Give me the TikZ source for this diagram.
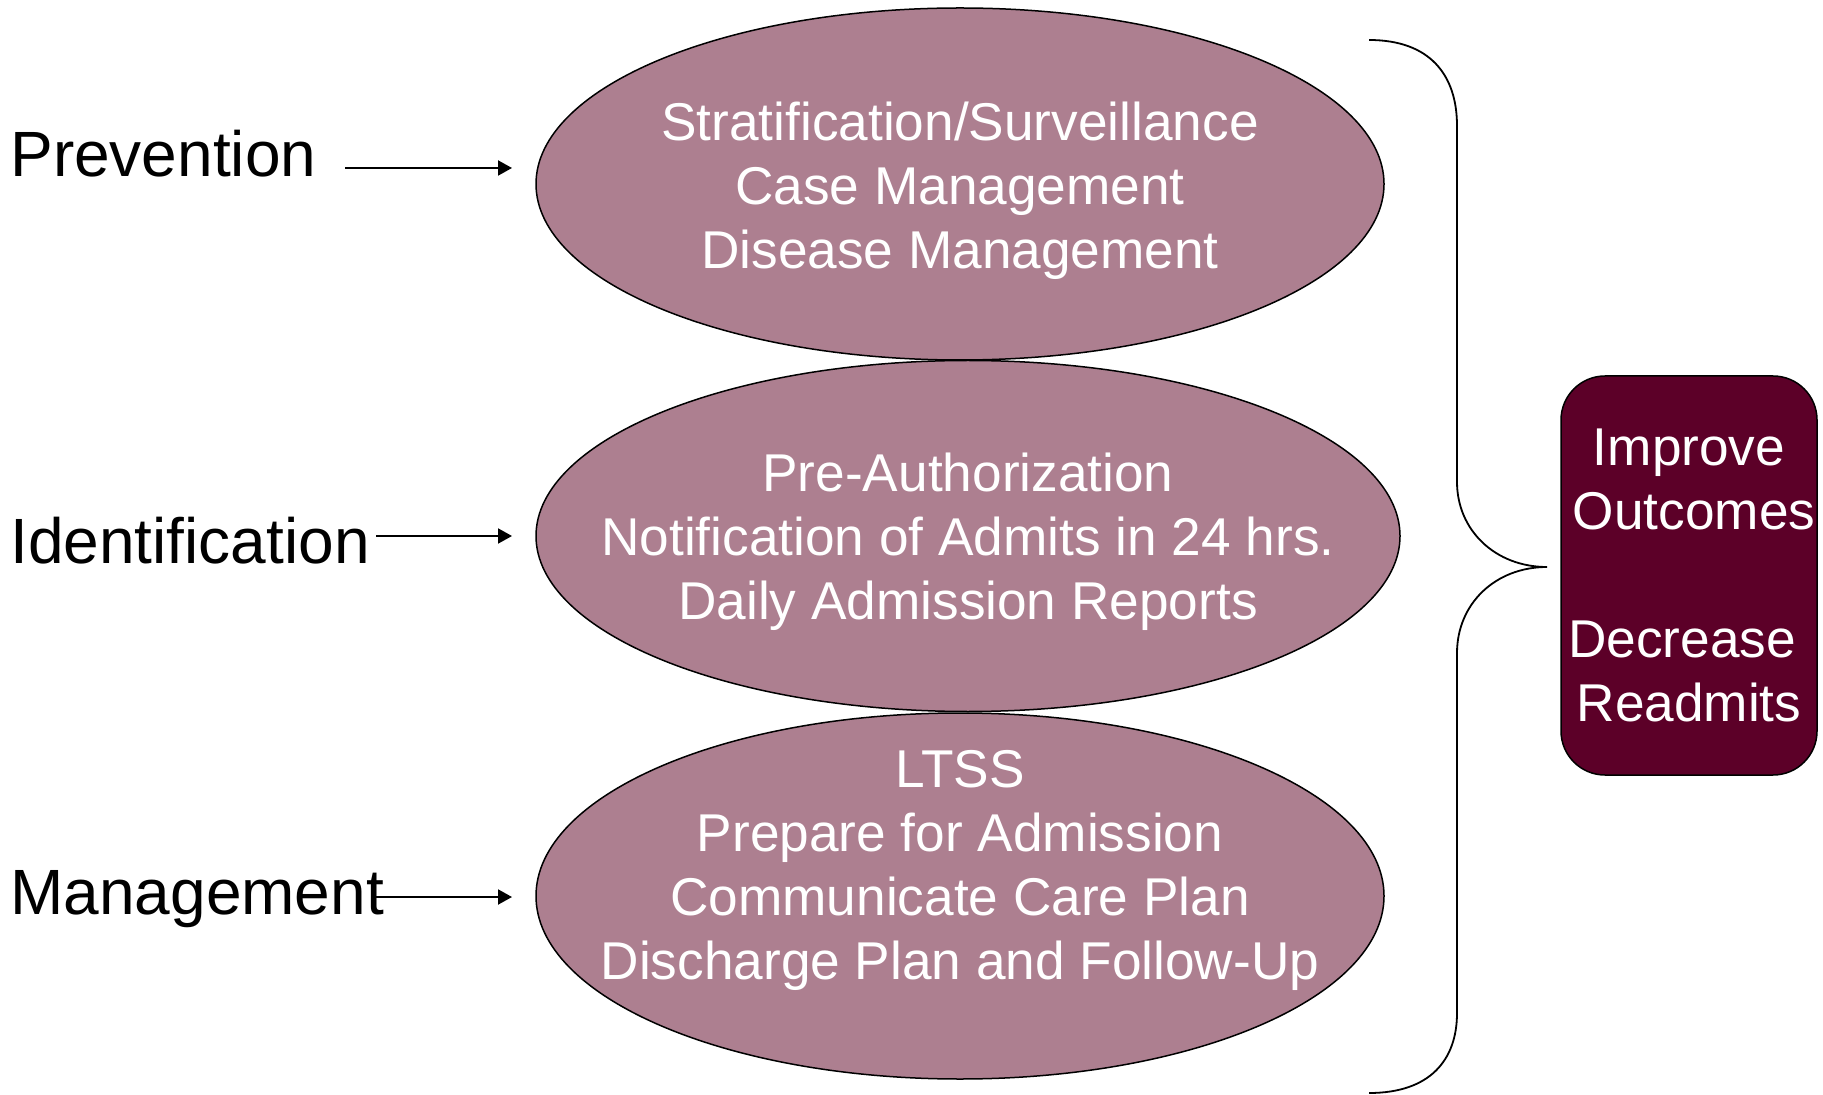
\documentclass[tikz,border=0pt]{standalone}
\usepackage{fontspec}
\setmainfont{Liberation Sans}
\usetikzlibrary{arrows.meta,shapes.geometric}
\definecolor{ellfill}{HTML}{AD7F90}
\definecolor{boxfill}{HTML}{5C0028}
\begin{document}
\begin{tikzpicture}[x=0.5pt,y=-0.5pt,
 ell/.style={ellipse,draw=black,line width=0.75pt,fill=ellfill,inner sep=0pt},
 etext/.style={text=white,align=center,font=\fontsize{26.6}{32}\selectfont,inner sep=0pt},
 lbl/.style={font=\fontsize{32}{38}\selectfont,inner sep=0pt,anchor=base west},
 arr/.style={line width=1pt,-{Triangle[length=7pt,width=7.5pt]}},
 goalbox/.style={draw=black,line width=0.75pt,fill=boxfill,rounded corners=22pt,inner sep=0pt,
   minimum width=128pt,minimum height=199.5pt,text=white,align=center,font=\fontsize{26.6}{32}\selectfont}
]
\useasboundingbox (0,0) rectangle (1823,1095);
% ellipses
\node[ell,minimum width=424pt,minimum height=176pt] (e1) at (960,184) {};
\node[ell,minimum width=432pt,minimum height=175.5pt] (e2) at (968,536) {};
\node[ell,minimum width=424pt,minimum height=183pt] (e3) at (960,896) {};
% ellipse texts
\node[etext] (t1) at (960,191) {Stratification/Surveillance\\Case Management\\Disease Management};
\node[etext] (t2) at (968,542) {Pre-Authorization\\Notification of Admits in 24 hrs.\\Daily Admission Reports};
\node[etext] (t3) at (960,870) {LTSS\\Prepare for Admission\\Communicate Care Plan\\Discharge Plan and Follow-Up};
% left labels
\node[lbl] (prev) at (10,177) {Prevention};
\node[lbl] (iden) at (10,563) {Identification};
\node[lbl] (mgmt) at (10,914) {Management};
% arrow ends
\coordinate (a1) at (345,168);
\coordinate (a2) at (376,536);
\coordinate (a3) at (375,897);
\coordinate (b1) at (512,168);
\coordinate (b2) at (512,536);
\coordinate (b3) at (512,897);
\draw[arr] (a1) -- (b1);
\draw[arr] (a2) -- (b2);
\draw[arr] (a3) -- (b3);
% brace
\draw[line width=0.9pt] (1369,40) .. controls (1430,40) and (1457,75) .. (1457,126)
  -- (1457,482) .. controls (1457,530) and (1495,567) .. (1547,567)
  .. controls (1495,567) and (1457,604) .. (1457,653)
  -- (1457,1013) .. controls (1457,1060) and (1430,1093) .. (1369,1093);
% goal box
\node[goalbox] (goal) at (1689,575.5) {Improve\\\hspace*{5pt}Outcomes\\[32pt]Decrease\hspace*{7pt}\null\\Readmits};
\end{tikzpicture}
\end{document}
